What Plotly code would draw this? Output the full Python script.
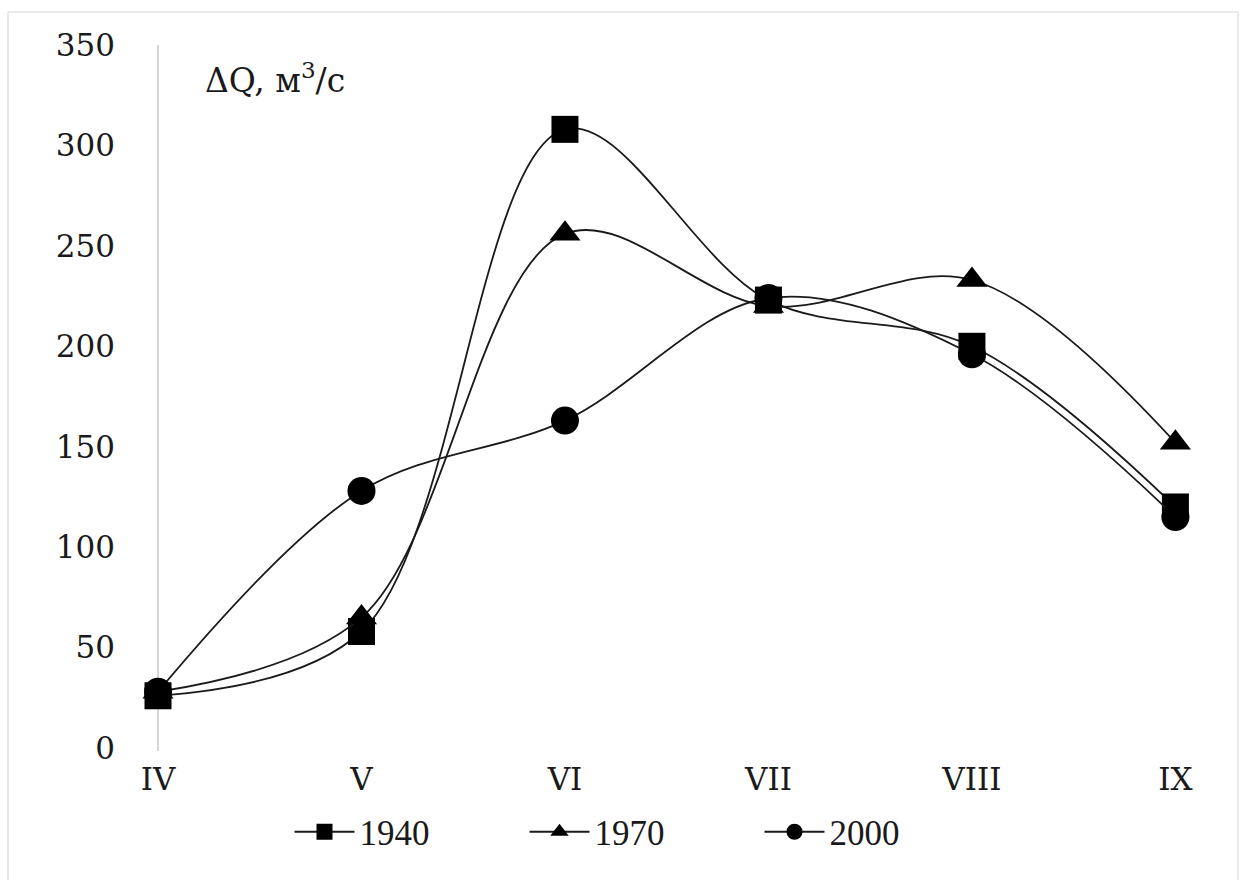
import plotly.graph_objects as go

# Months (Roman numerals) and flow increments ΔQ, m³/s
months = ["IV", "V", "VI", "VII", "VIII", "IX"]
q_1940 = [26, 58, 308, 223, 200, 120]
q_1970 = [28, 65, 256, 220, 233, 152]
q_2000 = [28, 128, 163, 224, 196, 115]

y_ticks = [0, 50, 100, 150, 200, 250, 300, 350]

W, H = 1243, 880
ML, MR, MT, MB = 158, 33, 45, 132
PW, PH = W - ML - MR, H - MT - MB

AXIS_FONT = "DejaVu Serif, Liberation Serif, serif"
LEGEND_FONT = "Liberation Serif, Times New Roman, serif"
INK = "#1a1a1a"

series = [
    ("1940", q_1940, "square", 27),
    ("1970", q_1970, "triangle-up", 27),
    ("2000", q_2000, "circle", 28),
]

fig = go.Figure()
for name, vals, sym, size in series:
    fig.add_trace(go.Scatter(
        x=months, y=vals, name=name, mode="lines+markers",
        line=dict(color=INK, width=1.8, shape="spline", smoothing=1.0),
        marker=dict(symbol=sym, size=size, color="black"),
        cliponaxis=False,
    ))


def px_x(p):
    return (p - ML) / PW


def px_y(p):
    return (H - MB - p) / PH


# thin light frame around the figure
frame = dict(color="#e3e3e3", width=1.5)
fig.add_shape(type="line", xref="paper", yref="paper",
              x0=px_x(8), x1=px_x(8), y0=px_y(12), y1=px_y(H), line=frame)
fig.add_shape(type="line", xref="paper", yref="paper",
              x0=px_x(1238), x1=px_x(1238), y0=px_y(12), y1=px_y(H), line=frame)
fig.add_shape(type="line", xref="paper", yref="paper",
              x0=px_x(8), x1=px_x(1238), y0=px_y(12), y1=px_y(12), line=frame)

fig.add_annotation(
    text="ΔQ, м<sup>3</sup>/с", xref="paper", yref="paper",
    x=px_x(203), y=px_y(78), xanchor="left", yanchor="middle",
    showarrow=False, font=dict(family=AXIS_FONT, size=33, color=INK),
)

fig.update_layout(
    width=W, height=H,
    margin=dict(l=ML, r=MR, t=MT, b=MB),
    paper_bgcolor="white", plot_bgcolor="white",
    font=dict(family=AXIS_FONT, size=31, color=INK),
    showlegend=True,
    legend=dict(
        orientation="h", x=px_x(642), y=px_y(832),
        xanchor="center", yanchor="middle",
        font=dict(family=LEGEND_FONT, size=35, color=INK),
        itemwidth=60, entrywidth=160, entrywidthmode="pixels",
        tracegroupgap=0, bgcolor="rgba(0,0,0,0)",
    ),
    xaxis=dict(
        type="category", range=[0, 5.17],
        showgrid=False, zeroline=False, showline=False,
        ticks="", ticklabelstandoff=10,
        tickfont=dict(family=AXIS_FONT, size=31, color=INK),
    ),
    yaxis=dict(
        range=[0, 350], tickvals=y_ticks,
        showgrid=False, zeroline=False,
        showline=False, ticks="", ticklabelstandoff=42,
        tickfont=dict(family=AXIS_FONT, size=31, color=INK),
    ),
)

# vertical value axis line drawn at the first category
fig.add_shape(type="line", xref="paper", yref="paper",
              x0=0, x1=0, y0=px_y(751), y1=1,
              line=dict(color="#c8c8c8", width=1.5), layer="below")

fig.write_html("out.html")
